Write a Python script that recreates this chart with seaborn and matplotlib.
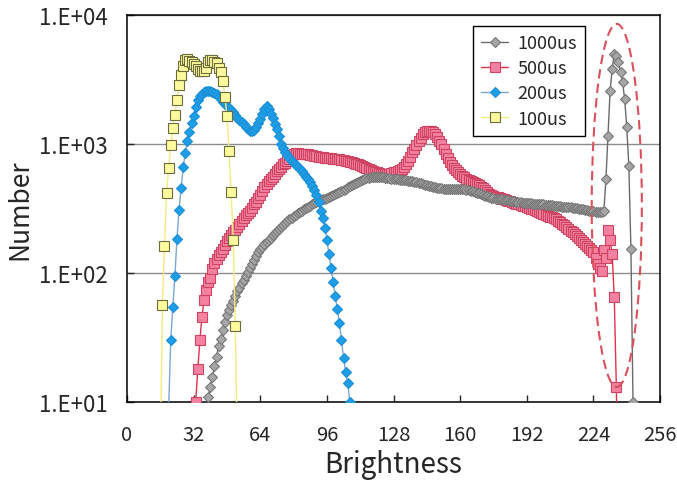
import numpy as np
import pandas as pd
import matplotlib
matplotlib.use("Agg")
import matplotlib.pyplot as plt
import seaborn as sns
from matplotlib.patches import Ellipse
from matplotlib.ticker import FixedLocator, FuncFormatter

# brightness histograms (one value per integer brightness level)
gray_start = 38   # 1000us
gray_vals = [
    9, 11, 13, 15.5, 19, 22.5, 27, 31, 36, 42, 47, 52, 57, 61, 66, 72, 77, 83, 89, 95,
    102, 110, 118, 127, 136, 145, 153, 160, 167, 174, 181, 188, 196, 205, 213, 221, 228, 236, 244, 252,
    260, 268, 276, 283, 290, 297, 304, 311, 318, 325, 332, 340, 347, 354, 360, 366, 372, 378, 383, 388,
    394, 400, 407, 415, 424, 433, 442, 452, 462, 472, 481, 490, 500, 509, 518, 526, 534, 541, 547, 551,
    554, 556, 557, 556, 554, 551, 548, 545, 542, 540, 537, 535, 532, 530, 527, 525, 523, 521, 519, 515,
    510, 505, 500, 495, 490, 485, 480, 475, 470, 466, 462, 459, 456, 453, 451, 450, 449, 448, 448, 448,
    448, 448, 448, 447, 445, 442, 439, 435, 430, 425, 420, 414, 408, 402, 397, 392, 387, 384, 381, 378,
    376, 374, 372, 370, 368, 366, 364, 362, 360, 358, 356, 354, 352, 350, 348, 347, 346, 345, 344, 343,
    342, 341, 340, 339, 337, 336, 334, 333, 331, 330, 329, 327, 326, 325, 324, 323, 322, 320, 318, 316,
    314, 312, 309, 306, 304, 302, 300, 299, 298, 297, 296, 300, 535, 1160, 2590, 3810, 4990, 4840, 4300, 3600,
    3000, 2230, 1347, 680, 153, 10,
]

red_start = 33    # 500us
red_vals = [
    10, 18, 30, 46, 62, 74, 85, 92, 108, 120, 128, 137, 145, 154, 164, 177, 188, 197, 207, 217,
    228, 238, 252, 266, 280, 292, 304, 322, 340, 357, 380, 405, 435, 465, 493, 515, 535, 560, 590, 615,
    635, 665, 695, 715, 735, 770, 815, 840, 845, 845, 842, 840, 838, 835, 830, 825, 820, 812, 805, 798,
    792, 788, 784, 780, 777, 774, 770, 767, 764, 760, 755, 750, 745, 738, 730, 722, 715, 706, 697, 687,
    677, 666, 655, 644, 633, 622, 612, 603, 595, 590, 586, 584, 585, 590, 598, 605, 612, 620, 630, 640,
    665, 700, 745, 800, 860, 920, 980, 1050, 1120, 1190, 1240, 1265, 1270, 1260, 1235, 1190, 1130, 1060, 1000, 920,
    840, 775, 720, 685, 655, 630, 605, 585, 570, 555, 540, 528, 515, 505, 495, 488, 478, 468, 455, 440,
    425, 410, 402, 395, 390, 385, 381, 377, 372, 368, 364, 360, 355, 350, 345, 340, 336, 332, 328, 324,
    320, 316, 312, 308, 303, 298, 292, 287, 283, 279, 274, 270, 266, 262, 255, 248, 241, 234, 227, 220,
    213, 207, 200, 193, 186, 180, 173, 168, 163, 157, 151, 145, 130, 118, 110, 104, 150, 130, 215, 180,
    140, 65, 13, 1,
]

blue_start = 20   # 200us
blue_vals = [
    9, 30, 55, 95, 185, 310, 460, 660, 850, 1060, 1250, 1450, 1650, 1925, 2180, 2350, 2450, 2520, 2570, 2590,
    2580, 2550, 2500, 2445, 2330, 2220, 2120, 2040, 1960, 1890, 1820, 1760, 1680, 1600, 1530, 1470, 1420, 1360, 1310, 1270,
    1260, 1290, 1360, 1450, 1560, 1700, 1870, 1980, 1880, 1720, 1600, 1420, 1300, 1150, 1000, 930, 870, 820, 780, 740,
    710, 690, 660, 635, 615, 590, 560, 536, 505, 470, 440, 400, 355, 300, 265, 225, 180, 140, 110, 85,
    66, 53, 41, 30, 22, 17, 14, 10,
]

yellow_start = 16  # 100us
yellow_vals = [
    4, 57, 161, 417, 652, 982, 1337, 1679, 2194, 2864, 3427, 4000, 4450, 4600, 4400, 4300, 4150, 4000, 3800, 3700,
    3650, 3700, 3900, 4300, 4500, 4450, 4350, 4250, 3900, 3600, 3100, 2330, 1660, 877, 427, 181, 39, 4,
]

series = [
    # label, start, values, marker, size, line, face, edge, zorder
    ("500us", red_start, red_vals, "s", 7.0, "#e0304a", "#f3819f", "#cf4463", 3),
    ("1000us", gray_start, gray_vals, "D", 5.6, "#6a6a6a", "#a6a6a6", "#777777", 4),
    ("200us", blue_start, blue_vals, "D", 5.6, "#7aa6d6", "#1f9ee8", "#1b8fd6", 5),
    ("100us", yellow_start, yellow_vals, "s", 6.8, "#f3ec7a", "#fdfa9e", "#6b6b3b", 6),
]

sns.set_style("ticks")
plt.rcParams["font.family"] = ["Noto Sans CJK JP", "DejaVu Sans"]

fig = plt.figure(figsize=(6.77, 4.85), dpi=100)
ax = fig.add_axes([0.1876, 0.169, 0.7874, 0.798])

for label, start, vals, mk, ms, lc, fc, ec, z in series:
    df = pd.DataFrame({"Brightness": np.arange(start, start + len(vals)), "Number": vals})
    sns.lineplot(data=df, x="Brightness", y="Number", ax=ax, color=lc, lw=1.0,
                 marker=mk, markersize=ms, markerfacecolor=fc, markeredgecolor=ec,
                 markeredgewidth=0.8, errorbar=None, zorder=z, label=label)

ax.set_yscale("log")
ax.set_xlim(0, 256)
ax.set_ylim(10, 10000)
ax.xaxis.set_major_locator(FixedLocator([0, 32, 64, 96, 128, 160, 192, 224, 256]))
ax.yaxis.set_major_locator(FixedLocator([10, 100, 1000, 10000]))
ax.yaxis.set_minor_locator(FixedLocator([]))
ax.yaxis.set_major_formatter(FuncFormatter(lambda v, p: "1.E+%02d" % round(np.log10(v))))
ax.grid(axis="y", color="#8c8c8c", lw=1.0)
ax.set_axisbelow(True)
ax.tick_params(axis="x", direction="in", length=5, width=1, labelsize=14.5, pad=16)
ax.tick_params(axis="y", direction="in", length=5, width=1, labelsize=16, pad=14)
for s in ax.spines.values():
    s.set_color("black")
    s.set_linewidth(1.1)

ax.set_xlabel("Brightness", fontsize=20, labelpad=3)
ax.set_ylabel("Number", fontsize=19, labelpad=4)

# dashed highlight around the saturation peak
ax.add_patch(Ellipse((0.9188, 0.508), 0.094, 0.938, transform=ax.transAxes, fill=False,
                     ec="#d9505a", lw=1.5, ls=(0, (4.5, 2.5)), zorder=7))

h, l = ax.get_legend_handles_labels()
order = ["1000us", "500us", "200us", "100us"]
hl = dict(zip(l, h))
leg = ax.legend([hl[k] for k in order], order, loc="upper left", bbox_to_anchor=(0.649, 0.972),
                borderaxespad=0, fontsize=13, frameon=True, fancybox=False, framealpha=1,
                edgecolor="black", handlelength=1.5, labelspacing=0.4, borderpad=0.45,
                handletextpad=0.5)
leg.get_frame().set_linewidth(1.0)
leg.set_zorder(10)

fig.savefig("out.png", dpi=100)
